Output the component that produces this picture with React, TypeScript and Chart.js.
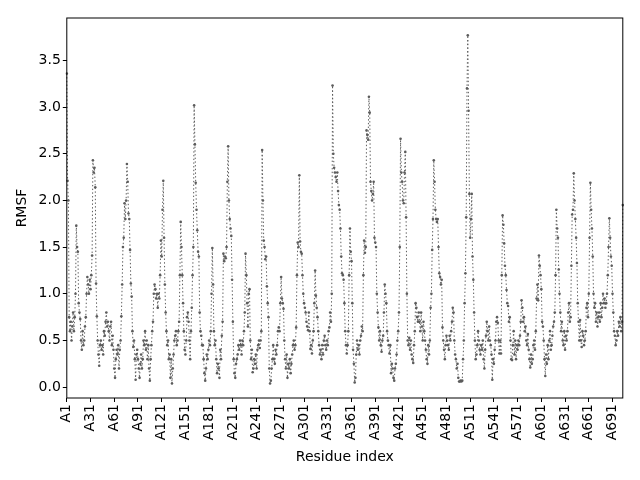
import { useEffect, useRef } from 'react';
import { Chart, registerables } from 'chart.js';

Chart.register(...registerables);

// RMSF per residue (A1 .. A704)
const rmsf: number[] = [
  3.36, 2.21, 2.0, 0.75, 0.6, 0.7, 0.5, 0.65, 0.8, 0.6,
  0.75, 1.0, 1.73, 1.5, 1.45, 0.9, 0.8, 0.73, 0.5, 0.4,
  0.6, 0.45, 0.5, 0.65, 0.75, 1.0, 1.18, 1.1, 1.0, 1.15,
  1.05, 1.2, 1.41, 2.43, 2.3, 2.35, 2.14, 1.11, 0.76, 0.5,
  0.35, 0.23, 0.45, 0.5, 0.4, 0.45, 0.35, 0.6, 0.55, 0.7,
  0.8, 0.65, 0.7, 0.6, 0.5, 0.65, 0.7, 0.45, 0.55, 0.4,
  0.2, 0.1, 0.3, 0.4, 0.35, 0.45, 0.2, 0.4, 0.5, 0.76,
  1.1, 1.5, 1.6, 1.97, 1.8, 2.0, 2.39, 2.2, 1.86, 1.8,
  1.47, 1.11, 0.97, 0.6, 0.43, 0.5, 0.3, 0.08, 0.35, 0.4,
  0.3, 0.2, 0.1, 0.25, 0.35, 0.2, 0.3, 0.5, 0.45, 0.6,
  0.4, 0.5, 0.3, 0.45, 0.2, 0.07, 0.3, 0.45, 0.6, 0.7,
  1.0, 1.1, 1.05, 0.95, 1.0, 0.85, 1.0, 0.95, 1.2, 1.57,
  1.4, 1.9, 2.21, 1.6, 1.1, 0.8, 0.6, 0.45, 0.5, 0.3,
  0.35, 0.1, 0.3, 0.04, 0.2, 0.35, 0.5, 0.55, 0.6, 0.45,
  0.5, 0.6, 0.7, 1.2, 1.77, 1.5, 1.2, 0.9, 0.6, 0.4,
  0.35, 0.5, 0.75, 0.8, 0.7, 0.5, 0.3, 0.6, 0.85, 1.2,
  1.5, 3.02, 2.6, 2.19, 1.9, 1.68, 1.45, 1.4, 0.8, 0.6,
  0.55, 0.45, 0.45, 0.3, 0.15, 0.07, 0.2, 0.35, 0.3, 0.4,
  0.5, 0.45, 0.6, 1.0, 1.49, 1.1, 0.6, 0.45, 0.5, 0.3,
  0.15, 0.25, 0.2, 0.1, 0.4, 0.3, 0.55, 0.7, 1.43, 1.35,
  1.4, 1.38, 1.5, 2.2, 2.58, 2.0, 1.8, 1.7, 1.62, 1.15,
  0.7, 0.3, 0.15, 0.1, 0.25, 0.3, 0.35, 0.45, 0.4, 0.5,
  0.45, 0.35, 0.5, 0.45, 0.6, 0.8, 1.43, 1.2, 0.9, 0.65,
  1.0, 1.05, 0.5, 0.3, 0.4, 0.16, 0.2, 0.3, 0.25, 0.35,
  0.2, 0.4, 0.45, 0.5, 0.42, 0.5, 0.6, 2.54, 2.0, 1.57,
  1.5, 1.37, 1.4, 1.08, 0.9, 0.75, 0.2, 0.04, 0.07, 0.2,
  0.3, 0.45, 0.3, 0.25, 0.4, 0.35, 0.45, 0.6, 0.64, 0.6,
  0.9, 1.18, 0.95, 0.9, 0.84, 0.5, 0.3, 0.2, 0.35, 0.1,
  0.25, 0.2, 0.3, 0.15, 0.25, 0.35, 0.45, 0.5, 0.4, 0.45,
  0.64, 1.2, 1.55, 1.5, 2.27, 1.56, 1.45, 1.43, 1.2, 1.0,
  0.9, 0.85, 0.8, 0.7, 0.65, 0.61, 0.8, 0.6, 0.41, 0.45,
  0.36, 0.5, 0.6, 0.9, 1.25, 0.98, 0.85, 0.75, 0.6, 0.45,
  0.35, 0.4, 0.3, 0.45, 0.35, 0.5, 0.55, 0.45, 0.4, 0.5,
  0.45, 0.6, 0.64, 0.8, 0.7, 1.0, 3.23, 2.5, 2.35, 2.3,
  2.25, 2.2, 2.3, 2.1, 1.95, 1.9, 1.7, 1.4, 1.22, 1.2,
  1.15, 0.9, 0.6, 0.45, 0.36, 0.45, 0.6, 1.2, 1.7, 1.45,
  1.35, 0.9, 0.4, 0.25, 0.05, 0.1, 0.35, 0.5, 0.4, 0.45,
  0.35, 0.5, 0.55, 0.65, 0.6, 1.2, 1.57, 1.44, 1.5, 2.75,
  2.7, 2.65, 3.11, 2.94, 2.2, 2.1, 2.0, 2.07, 2.2, 1.6,
  1.55, 1.5, 1.0, 0.8, 0.64, 0.5, 0.6, 0.45, 0.38, 0.5,
  0.55, 0.8, 1.1, 1.0, 0.9, 0.6, 0.5, 0.45, 0.36, 0.45,
  0.15, 0.25, 0.2, 0.1, 0.07, 0.2, 0.25, 0.35, 0.5, 0.6,
  0.8, 1.5, 2.66, 2.3, 2.2, 2.0, 1.97, 2.3, 2.52, 1.82,
  1.0, 0.5, 0.45, 0.53, 0.4, 0.5, 0.35, 0.3, 0.26, 0.45,
  0.6, 0.9, 0.85, 0.75, 0.7, 0.8, 0.7, 0.6, 0.8, 0.65,
  0.5, 0.7, 0.6, 0.5, 0.4, 0.3, 0.25, 0.45, 0.35, 0.5,
  0.85, 1.0, 1.47, 1.8, 2.43, 2.2, 1.9, 1.8, 1.77, 1.8,
  1.5, 1.22, 1.18, 1.1, 1.15, 0.64, 0.5, 0.4, 0.3, 0.45,
  0.55, 0.5, 0.45, 0.4, 0.55, 0.5, 0.6, 0.7, 0.85, 0.8,
  0.5, 0.35, 0.3, 0.2, 0.25, 0.1, 0.06, 0.06, 0.07, 0.06,
  0.07, 0.3, 0.5, 0.9, 1.22, 1.82, 3.2, 3.77, 2.96, 2.07,
  1.6, 1.8, 2.07, 1.4, 1.15, 0.8, 0.5, 0.3, 0.35, 0.45,
  0.6, 0.5, 0.4, 0.35, 0.45, 0.4, 0.5, 0.3, 0.2, 0.4,
  0.55, 0.7, 0.6, 0.5, 0.65, 0.5, 0.45, 0.35, 0.08, 0.3,
  0.25, 0.4, 0.5, 0.7, 0.75, 0.69, 0.5, 0.36, 0.5, 0.36,
  1.2, 1.84, 1.74, 1.54, 1.3, 1.2, 1.04, 0.9, 0.87, 0.7,
  0.75, 0.5, 0.3, 0.29, 0.45, 0.6, 0.35, 0.5, 0.3, 0.45,
  0.4, 0.5, 0.45, 0.55, 0.7, 0.93, 0.85, 0.7, 0.75, 0.6,
  0.65, 0.5, 0.45, 0.57, 0.4, 0.3, 0.21, 0.35, 0.25, 0.3,
  0.45, 0.5, 0.4, 0.6, 0.95, 1.1, 0.93, 1.41, 1.3, 1.2,
  1.05, 0.7, 0.65, 0.5, 0.3, 0.12, 0.35, 0.25, 0.45, 0.3,
  0.5, 0.6, 0.4, 0.45, 0.55, 0.65, 0.7, 0.8, 1.2, 1.9,
  1.7, 1.6, 1.26, 1.0, 0.8, 0.6, 0.7, 0.5, 0.45, 0.6,
  0.4, 0.55, 0.5, 0.6, 0.8, 0.9, 0.7, 0.75, 1.3, 1.85,
  1.9, 2.29, 2.0, 1.8, 1.6, 1.33, 0.9, 0.7, 0.5, 0.72,
  0.5, 0.43, 0.6, 0.55, 0.45, 0.5, 0.6, 0.85, 0.9, 0.75,
  1.0, 1.6, 2.19, 1.9, 1.7, 1.4, 1.0, 0.85, 0.9, 0.7,
  0.8, 0.65, 0.75, 0.8, 0.7, 0.9, 0.75, 0.85, 1.0, 0.9,
  0.95, 0.85, 0.9, 1.0, 1.2, 1.5, 1.81, 1.6, 1.4, 1.3,
  1.0, 0.8, 0.6, 0.55, 0.45, 0.5, 0.6, 0.55, 0.7, 0.65,
  0.75, 0.6, 0.7, 1.95,
];

const residues: string[] = rmsf.map((_, i) => `A${i + 1}`);
const xTickEvery = 30;
const yTicks: number[] = [0, 0.5, 1.0, 1.5, 2.0, 2.5, 3.0, 3.5];

const lineColor = '#5c5c5c';

// matplotlib draws a full box round the axes
const framePlugin = {
  id: 'frame',
  afterDraw(chart: Chart) {
    const { ctx, chartArea } = chart;
    ctx.save();
    ctx.strokeStyle = '#000';
    ctx.lineWidth = 1;
    ctx.strokeRect(chartArea.left, chartArea.top, chartArea.width, chartArea.height);
    ctx.restore();
  },
};

const RmsfChart = () => {
  const canvasRef = useRef<HTMLCanvasElement>(null);
  const chartRef = useRef<Chart | null>(null);

  useEffect(() => {
    if (!canvasRef.current) return;
    if (chartRef.current) chartRef.current.destroy();

    Chart.defaults.font.family = 'DejaVu Sans';
    Chart.defaults.font.size = 14;
    Chart.defaults.color = '#000';

    chartRef.current = new Chart(canvasRef.current, {
      type: 'line',
      data: {
        labels: residues,
        datasets: [{
          data: rmsf,
          borderColor: lineColor,
          borderWidth: 1,
          borderDash: [1.4, 2.3],
          pointRadius: 1.3,
          pointBackgroundColor: lineColor,
          pointBorderWidth: 0,
          pointHoverRadius: 0,
          tension: 0,
          fill: false,
        }],
      },
      options: {
        responsive: false,
        animation: false,
        events: [],
        layout: {
          padding: { left: 13.6, right: 17.2, top: 18, bottom: 14.6 },
        },
        plugins: {
          legend: { display: false },
          tooltip: { enabled: false },
        },
        scales: {
          x: {
            type: 'category',
            offset: false,
            border: { display: false },
            grid: {
              display: true,
              drawOnChartArea: false,
              drawTicks: true,
              tickLength: 4,
              color: '#000',
            },
            ticks: {
              autoSkip: false,
              minRotation: 90,
              maxRotation: 90,
              padding: 2,
              callback: (value) => residues[Number(value)],
            },
            afterBuildTicks: (scale) => {
              scale.ticks = scale.ticks.filter((t) => Number(t.value) % xTickEvery === 0);
            },
            afterFit: (scale) => {
              scale.height = 67.4;
            },
            title: {
              display: true,
              text: 'Residue index',
              padding: 0,
            },
          },
          y: {
            min: -0.116,
            max: 3.954,
            border: { display: false },
            grid: {
              display: true,
              drawOnChartArea: false,
              drawTicks: true,
              tickLength: 4,
              color: '#000',
            },
            ticks: {
              padding: 2,
              callback: (value) => Number(value).toFixed(1),
            },
            afterBuildTicks: (scale) => {
              scale.ticks = yTicks.map((v) => ({ value: v }));
            },
            afterFit: (scale) => {
              scale.width = 53.2;
            },
            title: {
              display: true,
              text: 'RMSF',
              padding: 0,
            },
          },
        },
      },
      plugins: [framePlugin],
    });

    return () => {
      if (chartRef.current) {
        chartRef.current.destroy();
        chartRef.current = null;
      }
    };
  }, []);

  return <canvas ref={canvasRef} width={640} height={480} />;
};

export default function App() {
  return (
    <div style={{ position: 'absolute', left: 0, top: 0, width: 640, height: 480, background: '#fff' }}>
      <RmsfChart />
    </div>
  );
}
